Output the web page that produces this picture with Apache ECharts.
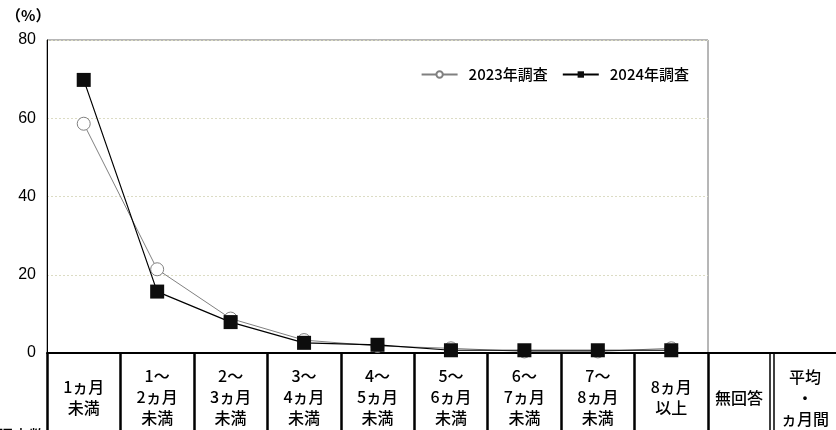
<!DOCTYPE html>
<html><head><meta charset="utf-8">
<script src="https://cdn.jsdelivr.net/npm/echarts@6/dist/echarts.min.js"></script>
<style>html,body{margin:0;padding:0;background:#fff}#c{width:836px;height:430px}</style>
</head><body><div id="c"></div>
<script>
var categories = ['1ヵ月\n未満','1～\n2ヵ月\n未満','2～\n3ヵ月\n未満','3～\n4ヵ月\n未満','4～\n5ヵ月\n未満','5～\n6ヵ月\n未満','6～\n7ヵ月\n未満','7～\n8ヵ月\n未満','8ヵ月\n以上'];
var series2023 = [58.6, 21.4, 8.8, 3.3, 1.8, 1.2, 0.4, 0.4, 1.2];
var series2024 = [69.8, 15.7, 7.9, 2.6, 2.1, 0.7, 0.7, 0.7, 0.7];
var seriesNames = ['2023年調査','2024年調査'];
var yTicks = [0, 20, 40, 60, 80];
var extraCols = ['無回答', '平均\n・\nヵ月間'];

var chart = echarts.init(document.getElementById('c'), null, {renderer:'canvas'});
var FONT = '"Noto Sans CJK JP", sans-serif';
chart.setOption({
  animation:false,
  textStyle:{fontFamily:FONT},
  grid:{left:47, top:40, width:661, height:313, show:true, borderColor:'#6e6e6e', borderWidth:1},
  legend:{
    right:142, top:62, itemWidth:36, itemHeight:8, itemGap:14,
    textStyle:{fontSize:15, fontWeight:500, color:'#000', fontFamily:FONT, padding:[0,0,0,6]},
    data:seriesNames
  },
  xAxis:[{
    type:'category', data:categories, boundaryGap:true,
    axisLine:{lineStyle:{color:'#000', width:2}},
    axisTick:{inside:true, length:4, lineStyle:{color:'#000', width:1.5}},
    axisLabel:{interval:0, margin:44, verticalAlign:'middle', fontSize:16, fontWeight:500, lineHeight:21, color:'#000', fontFamily:FONT}
  },{
    type:'category', data:categories, boundaryGap:true, position:'bottom',
    axisLine:{show:false},
    axisTick:{show:true, inside:false, length:90, lineStyle:{color:'#000', width:2.5}},
    axisLabel:{show:false}
  }],
  yAxis:{
    type:'value', min:yTicks[0], max:yTicks[yTicks.length-1], interval:20,
    axisLine:{show:true, lineStyle:{color:'#000', width:1}},
    axisTick:{show:false},
    axisLabel:{fontSize:16, color:'#000', margin:11, fontFamily:'"Liberation Sans", Arial, sans-serif'},
    splitLine:{lineStyle:{color:'#dcdcc4', type:[2,2], width:1}}
  },
  graphic:[
    {type:'text', left:6, top:8, style:{text:'（%）', fontSize:15, fontWeight:'bold', fill:'#000', fontFamily:FONT}},
    {type:'line', shape:{x1:708, y1:353, x2:836, y2:353}, style:{stroke:'#000', lineWidth:2}},
    {type:'line', shape:{x1:770, y1:353, x2:770, y2:430}, style:{stroke:'#000', lineWidth:1.5}},
    {type:'line', shape:{x1:774, y1:353, x2:774, y2:430}, style:{stroke:'#000', lineWidth:1.5}},
    {type:'text', x:739, y:398, style:{text:extraCols[0], fontSize:16, fontWeight:500, fill:'#000', align:'center', verticalAlign:'middle', fontFamily:FONT}},
    {type:'text', x:805, y:398, style:{text:extraCols[1], fontSize:16, fontWeight:500, lineHeight:21, fill:'#000', align:'center', verticalAlign:'middle', fontFamily:FONT}},
    {type:'text', x:21, y:436, style:{text:'調査数', fontSize:16, fontWeight:500, fill:'#000', align:'center', verticalAlign:'middle', fontFamily:FONT}}
  ],
  series:[{
    name:seriesNames[0], type:'line', data:series2023,
    symbol:'circle', symbolSize:13, z:2,
    lineStyle:{color:'#808080', width:1},
    itemStyle:{color:'#fff', borderColor:'#808080', borderWidth:1}
  },{
    name:seriesNames[1], type:'line', data:series2024,
    symbol:'rect', symbolSize:14, z:3,
    lineStyle:{color:'#000', width:1.2},
    itemStyle:{color:'#0d0d0d', borderColor:'#0d0d0d', borderWidth:0}
  }]
});
</script></body></html>
